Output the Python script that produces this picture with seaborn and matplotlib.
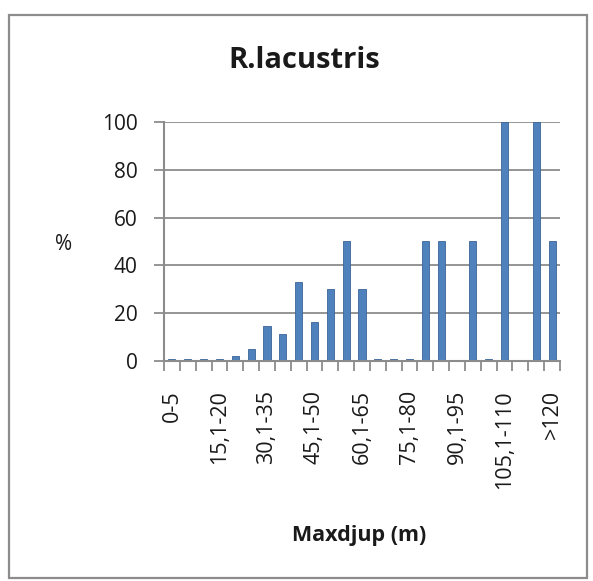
import numpy as np
import pandas as pd
import matplotlib
matplotlib.use("Agg")
import matplotlib.pyplot as plt
import seaborn as sns
from matplotlib.patches import Rectangle

categories = ["0-5", "5,1-10", "10,1-15", "15,1-20", "20,1-25", "25,1-30",
              "30,1-35", "35,1-40", "40,1-45", "45,1-50", "50,1-55", "55,1-60",
              "60,1-65", "65,1-70", "70,1-75", "75,1-80", "80,1-85", "85,1-90",
              "90,1-95", "95,1-100", "100,1-105", "105,1-110", "110,1-115",
              "115,1-120", ">120"]
values = [0.8, 0.7, 0.8, 1, 2, 5, 14.5, 11.5, 33, 16.5, 30, 50,
          30, 0.8, 0.8, 0.8, 50, 50, np.nan, 50, 0.8, 100, np.nan, 100, 50]
shown_labels = ["0-5", "15,1-20", "30,1-35", "45,1-50", "60,1-65",
                "75,1-80", "90,1-95", "105,1-110", ">120"]
yticks = [0, 20, 40, 60, 80, 100]

sns.set_theme(style="white")
plt.rcParams["font.family"] = ["Open Sans", "DejaVu Sans"]

df = pd.DataFrame({"cat": categories, "val": values})

W, H = 593, 581
fig = plt.figure(figsize=(W / 100, H / 100), dpi=100)
ax = fig.add_axes([164 / W, 1 - 361 / H, (560 - 164) / W, (361 - 122) / H])

sns.barplot(data=df, x="cat", y="val", order=categories, color="#4F81BD",
            saturation=1, width=0.45, ax=ax, edgecolor="#3A6496", linewidth=0.6)

ax.set_ylim(0, 100)
ax.set_xlim(-0.5, len(categories) - 0.5)
ax.set_yticks(yticks)
ax.set_yticklabels([str(t) for t in yticks], fontsize=15, color="#1a1a1a")
for t in yticks[1:]:
    ax.axhline(t, color="#8c8c8c", lw=1.3, zorder=0)

ax.set_xticks(np.arange(len(categories) + 1) - 0.5, minor=True)
ax.set_xticks([categories.index(c) for c in shown_labels])
ax.set_xticklabels(shown_labels, rotation=90, fontsize=15.5, color="#1a1a1a")
ax.tick_params(axis="x", which="major", length=0, pad=21)
ax.tick_params(axis="x", which="minor", length=7, width=1.3, color="#8c8c8c",
               bottom=True, direction="out")
ax.tick_params(axis="y", length=7, width=1.3, color="#8c8c8c", left=True,
               direction="out", pad=12)

for s in ["top", "right"]:
    ax.spines[s].set_visible(False)
for s in ["left", "bottom"]:
    ax.spines[s].set_color("#8c8c8c")
    ax.spines[s].set_linewidth(1.5)

ax.set_xlabel("")
ax.set_ylabel("")

fig.text(304 / W, 1 - 60 / H, "R.lacustris", fontsize=21, fontweight="bold",
         ha="center", va="center", color="#1a1a1a")
fig.text(359 / W, 1 - 536 / H, "Maxdjup (m)", fontsize=15.5, fontweight="bold",
         ha="center", va="center", color="#1a1a1a")
fig.text(64 / W, 1 - 245 / H, "%", fontsize=15, ha="center", va="center",
         color="#1a1a1a")

fig.patches.append(Rectangle((9 / W, 1 - 578 / H), 578 / W, 563 / H,
                             transform=fig.transFigure, fill=False,
                             edgecolor="#8c8c8c", lw=1.6))

fig.savefig("out.png", dpi=100)
